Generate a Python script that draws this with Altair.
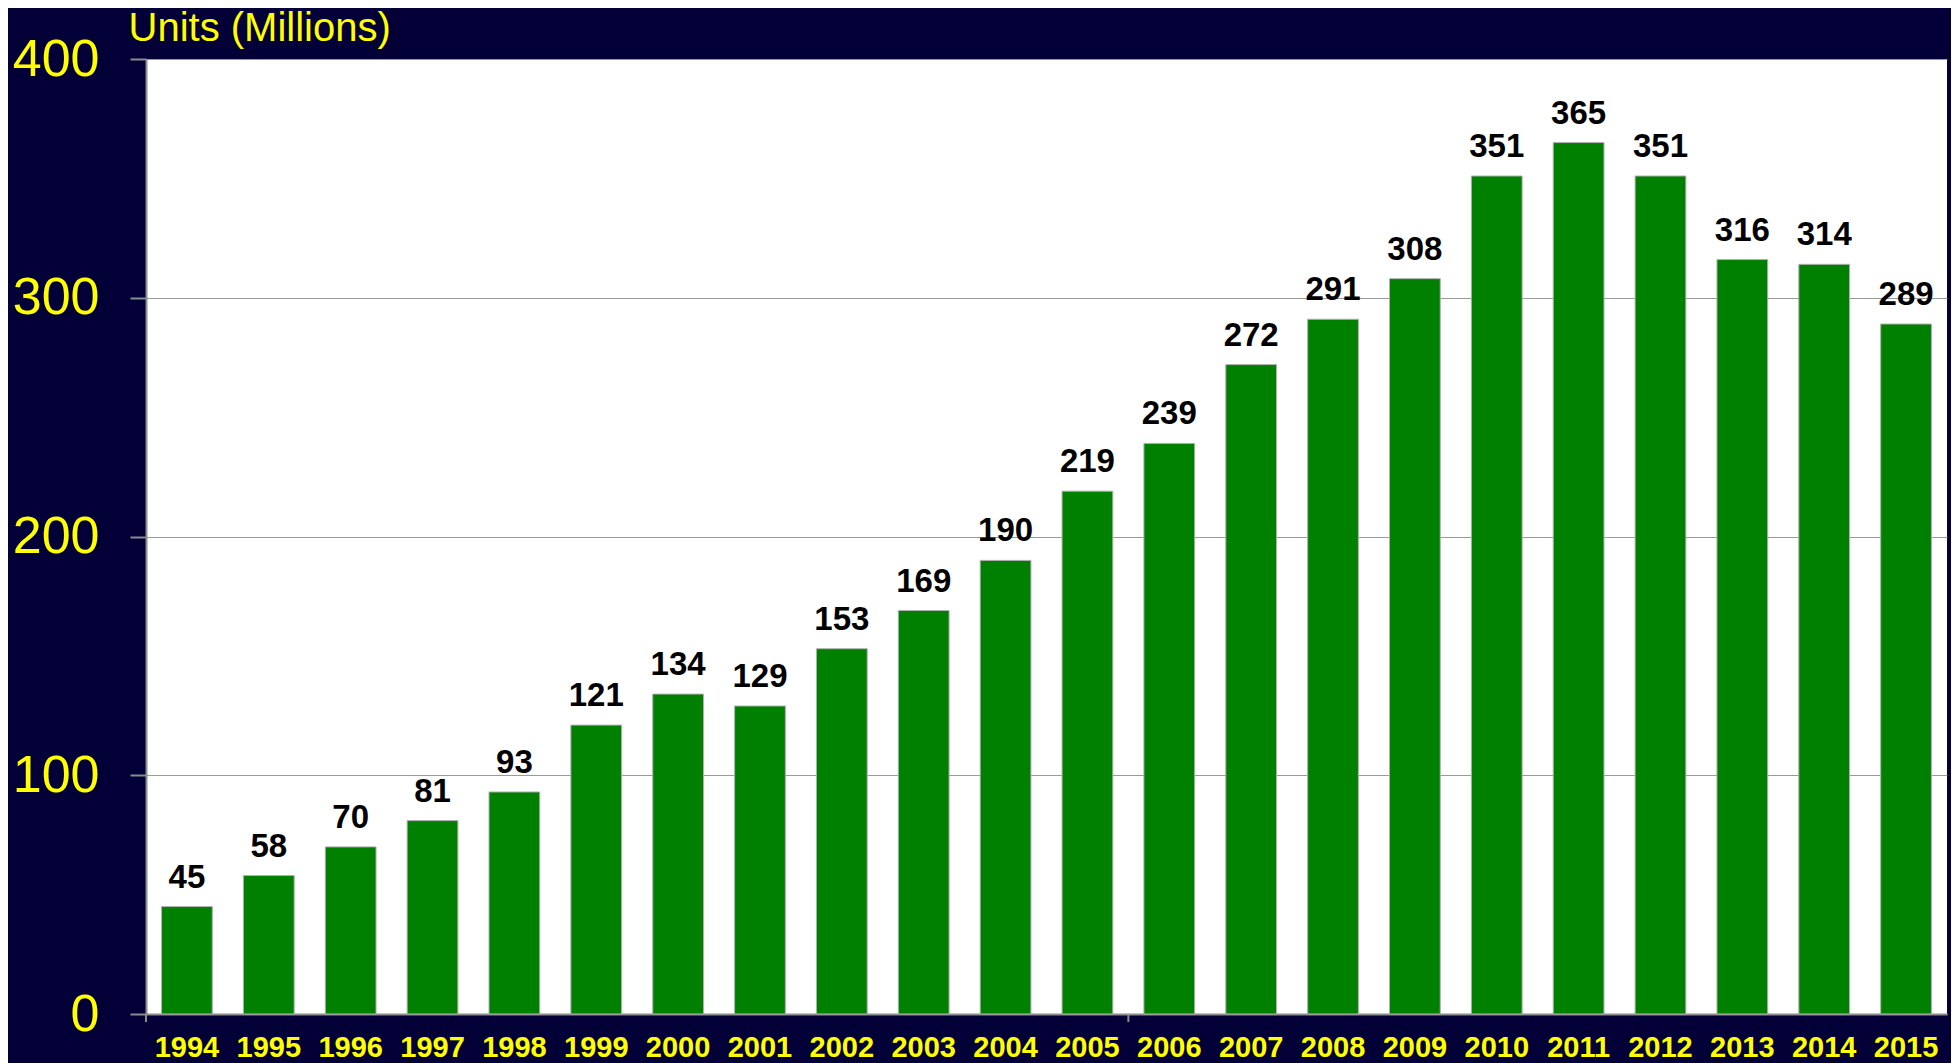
import altair as alt
import pandas as pd

years = ["1994", "1995", "1996", "1997", "1998", "1999", "2000", "2001", "2002", "2003", "2004",
         "2005", "2006", "2007", "2008", "2009", "2010", "2011", "2012", "2013", "2014", "2015"]
units = [45, 58, 70, 81, 93, 121, 134, 129, 153, 169, 190,
         219, 239, 272, 291, 308, 351, 365, 351, 316, 314, 289]
y_ticks = [0, 100, 200, 300, 400]
x_major_ticks = ["1994", "2006"]
y_title = "Units (Millions)"

df = pd.DataFrame({"year": years, "units": units})
df_ticks = pd.DataFrame({"year": x_major_ticks})

FONT = "Liberation Sans"
NAVY = "#020037"
YELLOW = "#FFFF00"
GREEN = "#008000"
GRAY = "#8c8c8c"
PLOT_W = 1801
PLOT_H = 955
PAD_INNER = 0.38
PAD_OUTER = 0.19
# shift from a bar's left edge back to the category boundary (half the inner gap)
BOUNDARY_SHIFT = -(PAD_INNER / 2) * PLOT_W / len(years)

x_enc = alt.X(
    "year:N",
    sort=years,
    scale=alt.Scale(paddingInner=PAD_INNER, paddingOuter=PAD_OUTER),
    axis=alt.Axis(
        title=None,
        labelAngle=0,
        labelFont=FONT,
        labelFontSize=29,
        labelFontWeight="bold",
        labelColor=YELLOW,
        labelBaseline="alphabetic",
        labelPadding=42,
        domainColor=GRAY,
        domainWidth=2,
        ticks=False,
        grid=False,
    ),
)

y_enc = alt.Y(
    "units:Q",
    scale=alt.Scale(domain=[0, 400], nice=False),
    axis=alt.Axis(
        title=y_title,
        titleAngle=0,
        titleX=-18,
        titleY=-19,
        titleAlign="left",
        titleBaseline="alphabetic",
        titleFont=FONT,
        titleFontSize=40,
        titleFontWeight="normal",
        titleColor=YELLOW,
        values=y_ticks,
        labelFont=FONT,
        labelFontSize=52,
        labelColor=YELLOW,
        labelPadding=31,
        labelBaseline="middle",
        domainColor=GRAY,
        domainWidth=2,
        tickColor=GRAY,
        tickSize=16,
        tickWidth=2,
        grid=True,
        gridColor="#999999",
        gridWidth=1,
    ),
)

base = alt.Chart(df)

bars = base.mark_bar(color=GREEN, stroke="#b0b0b0", strokeWidth=1).encode(x=x_enc, y=y_enc)

labels = base.mark_text(
    font=FONT,
    fontSize=33,
    fontWeight="bold",
    color="black",
    baseline="alphabetic",
    dy=-19,
).encode(x=alt.X("year:N", sort=years), y=alt.Y("units:Q"), text=alt.Text("units:Q"))

major_ticks = alt.Chart(df_ticks).mark_rule(
    color=GRAY, strokeWidth=2, clip=False, xOffset=BOUNDARY_SHIFT
).encode(
    x=alt.X("year:N", sort=years, bandPosition=0),
    y=alt.value(PLOT_H),
    y2=alt.value(PLOT_H + 8),
)

chart = (
    alt.layer(bars, labels, major_ticks)
    .properties(
        width=PLOT_W,
        height=PLOT_H,
        background=NAVY,
        padding={"left": 138, "top": 51, "right": 4, "bottom": 49},
        autosize=alt.AutoSizeParams(type="none"),
    )
    .configure_view(fill="white", stroke=None)
)

chart.save("out.html", embed_options={"renderer": "svg", "actions": False})
